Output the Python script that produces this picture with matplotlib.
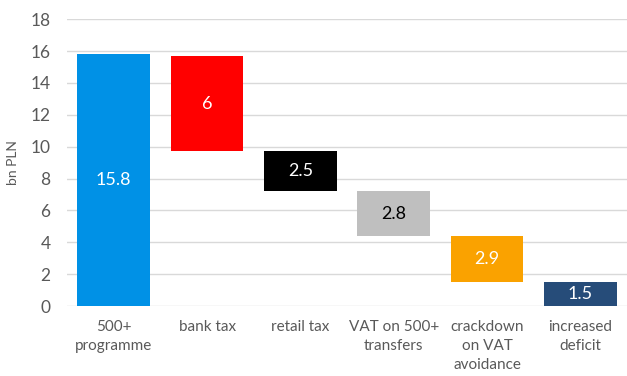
import matplotlib
matplotlib.use("Agg")
import matplotlib.pyplot as plt
import numpy as np

categories = ["500+\nprogramme", "bank tax", "retail tax",
              "VAT on 500+\ntransfers", "crackdown\non VAT\navoidance",
              "increased\ndeficit"]
values = [15.8, 6, 2.5, 2.8, 2.9, 1.5]
colors = ["#0091E6", "#FF0000", "#000000", "#BFBFBF", "#FAA200", "#264C79"]
label_colors = ["white", "white", "white", "black", "white", "white"]

# The first bar stands on zero; the funding items stack up from the right
# so that together they cover the programme's cost.
funding = values[1:]
bottoms_funding = np.concatenate([np.cumsum(funding[::-1])[::-1][1:], [0]])
bottoms = [0] + list(bottoms_funding)

plt.rcParams["font.family"] = ["Lato", "DejaVu Sans"]

fig = plt.figure(figsize=(6.27, 3.76), dpi=100)
ax = fig.add_axes([0.107, 0.186, 0.893, 0.763])

x = np.arange(len(categories))
bars = ax.bar(x, values, bottom=bottoms, width=0.78, color=colors, zorder=3)

for xi, v, b, lc in zip(x, values, bottoms, label_colors):
    ax.text(xi, b + v / 2, f"{v:g}", ha="center", va="center",
            color=lc, fontsize=13, zorder=4)

ax.set_xlim(-0.5, 5.5)
ax.set_ylim(0, 18)
ax.set_yticks(range(0, 19, 2))
ax.set_xticks(x)
ax.set_xticklabels(categories, fontsize=11, color="#595959", linespacing=1.45)
ax.tick_params(axis="y", labelsize=12.5, labelcolor="#595959", length=0, pad=12)
ax.tick_params(axis="x", length=0, pad=10)
ax.grid(axis="y", color="#D9D9D9", linewidth=1, zorder=0)
for s in ax.spines.values():
    s.set_visible(False)
ax.set_ylabel("bn PLN", fontsize=10, color="#595959", labelpad=8)

fig.savefig("out.png", dpi=100)
